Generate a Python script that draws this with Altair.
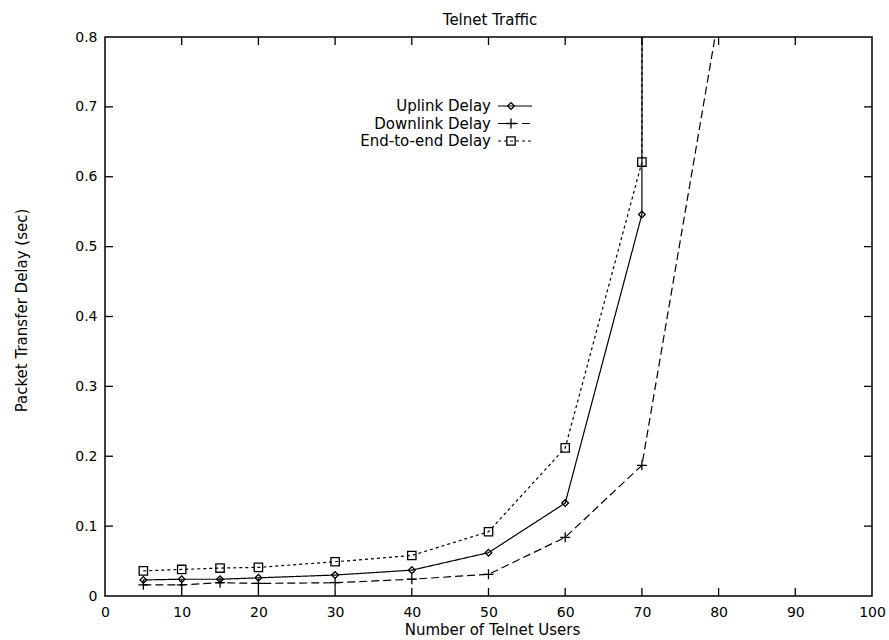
import altair as alt
import pandas as pd

# ---- data ----
users = [5, 10, 15, 20, 30, 40, 50, 60, 70]
uplink = [0.023, 0.024, 0.024, 0.026, 0.030, 0.037, 0.062, 0.133, 0.546]
downlink = [0.016, 0.016, 0.019, 0.018, 0.019, 0.024, 0.031, 0.084, 0.187]
end2end = [0.036, 0.038, 0.040, 0.041, 0.049, 0.058, 0.092, 0.212, 0.621]
# continuation points beyond the top of the plot (clipped)
uplink_tail = (70.3, 5.0)
downlink_tail = (80.0, 0.83)
end2end_tail = (70.3, 5.0)

chart_title = "Telnet Traffic"
series_names = ["Uplink Delay", "Downlink Delay", "End-to-end Delay"]
x_ticks = [0, 10, 20, 30, 40, 50, 60, 70, 80, 90, 100]
y_ticks = [0, 0.1, 0.2, 0.3, 0.4, 0.5, 0.6, 0.7, 0.8]

FONT = "DejaVu Sans"
W, H = 767, 559


def line_df(values, tail):
    xs = users + [tail[0]]
    ys = values + [tail[1]]
    return pd.DataFrame({"x": xs, "y": ys})


def pts_df(values):
    return pd.DataFrame({"x": users, "y": values})


xscale = alt.Scale(domain=[0, 100], nice=False, zero=False)
yscale = alt.Scale(domain=[0, 0.8], nice=False, zero=False)

xaxis = alt.Axis(values=x_ticks, ticks=False, domain=False, grid=False,
                 labelFlush=False, labelOverlap=False, labelPadding=9,
                 labelFont=FONT, labelFontSize=14, labelColor="black",
                 title="Number of Telnet Users", titleFont=FONT, titleFontSize=15,
                 titleFontWeight="normal", titleColor="black",
                 titleBaseline="top", titleY=26, titleX=387)
yaxis = alt.Axis(values=y_ticks, ticks=False, domain=False, grid=False,
                 labelFlush=False, labelOverlap=False, labelPadding=8,
                 labelFont=FONT, labelFontSize=14, labelColor="black",
                 format="~g",
                 title="Packet Transfer Delay (sec)", titleFont=FONT, titleFontSize=15,
                 titleFontWeight="normal", titleColor="black",
                 titleBaseline="bottom", titleX=-76, titleY=273)


def X(field):
    return alt.X(field, type="quantitative", scale=xscale, axis=xaxis)


def Y(field):
    return alt.Y(field, type="quantitative", scale=yscale, axis=yaxis)


styles = {
    "Uplink Delay": dict(dash=[1, 0], shape="diamond", size=45),
    "Downlink Delay": dict(dash=[8, 4], shape="M-1,0L1,0M0,-1L0,1", size=100),
    "End-to-end Delay": dict(dash=[3, 3], shape="square", size=70),
}
values_map = {
    "Uplink Delay": (uplink, uplink_tail),
    "Downlink Delay": (downlink, downlink_tail),
    "End-to-end Delay": (end2end, end2end_tail),
}

layers = []
for name in series_names:
    vals, tail = values_map[name]
    st = styles[name]
    layers.append(
        alt.Chart(line_df(vals, tail)).mark_line(
            color="black", strokeWidth=1.2, strokeDash=st["dash"], clip=True
        ).encode(x=X("x"), y=Y("y"))
    )
    layers.append(
        alt.Chart(pts_df(vals)).mark_point(
            shape=st["shape"], size=st["size"], filled=False, color="black",
            strokeWidth=1.3, opacity=1, clip=True
        ).encode(x=X("x"), y=Y("y"))
    )

# inward ticks on all four sides
xt = pd.DataFrame({"t": x_ticks[1:-1]})
yt = pd.DataFrame({"t": y_ticks[1:-1]})
TL = 8
layers.append(alt.Chart(xt).mark_rule(color="black", strokeWidth=1.3).encode(
    x=X("t"), y=alt.value(H), y2=alt.value(H - TL)))
layers.append(alt.Chart(xt).mark_rule(color="black", strokeWidth=1.3).encode(
    x=X("t"), y=alt.value(0), y2=alt.value(TL)))
layers.append(alt.Chart(yt).mark_rule(color="black", strokeWidth=1.3).encode(
    y=Y("t"), x=alt.value(0), x2=alt.value(TL)))
layers.append(alt.Chart(yt).mark_rule(color="black", strokeWidth=1.3).encode(
    y=Y("t"), x=alt.value(W), x2=alt.value(W - TL)))

# legend (text on the left, sample on the right)
leg_rows = [69, 86.5, 104]
for name, ly in zip(series_names, leg_rows):
    st = styles[name]
    d = pd.DataFrame({"name": [name]})
    layers.append(alt.Chart(d).mark_text(
        align="right", baseline="middle", font=FONT, fontSize=15, color="black"
    ).encode(text="name:N", x=alt.value(386), y=alt.value(ly)))
    layers.append(alt.Chart(d).mark_rule(
        color="black", strokeWidth=1.2, strokeDash=st["dash"]
    ).encode(x=alt.value(393), x2=alt.value(427), y=alt.value(ly)))
    layers.append(alt.Chart(d).mark_point(
        shape=st["shape"], size=st["size"], filled=False, color="black",
        strokeWidth=1.3, opacity=1
    ).encode(x=alt.value(406), y=alt.value(ly)))

# chart title drawn as text above the plot frame
tdf = pd.DataFrame({"title": [chart_title]})
layers.append(alt.Chart(tdf).mark_text(
    align="center", baseline="alphabetic", font=FONT, fontSize=15, color="black"
).encode(text="title:N", x=alt.value(385), y=alt.value(-12)))

chart = alt.layer(*layers).properties(
    width=W, height=H,
    padding={"left": 105, "top": 37, "right": 17, "bottom": 44},
    autosize=alt.AutoSizeParams(type="none"),
    background="white",
).configure_view(stroke="black", strokeWidth=1.5)

chart.save("out.html", embed_options={"renderer": "svg", "actions": False})
